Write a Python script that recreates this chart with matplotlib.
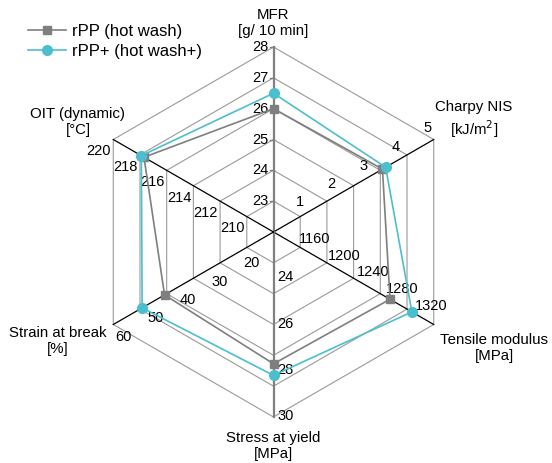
import numpy as np
import matplotlib
matplotlib.use("Agg")
import matplotlib.pyplot as plt
from matplotlib.lines import Line2D

plt.rcParams['font.family'] = ['Liberation Sans', 'DejaVu Sans']

# axes, clockwise from the top
axis_names = ['MFR\n[g/ 10 min]', 'Charpy NIS\n[kJ/m$^2$]', 'Tensile modulus\n[MPa]',
              'Stress at yield\n[MPa]', 'Strain at break\n[%]', 'OIT (dynamic)\n[°C]']
axis_min = [22, 0, 1100, 22, 10, 208]
axis_max = [28, 5, 1320, 30, 60, 220]
axis_ticks = [
    [23, 24, 25, 26, 27, 28],
    [1, 2, 3, 4, 5],
    [1160, 1200, 1240, 1280, 1320],
    [24, 26, 28, 30],
    [20, 30, 40, 50, 60],
    [210, 212, 214, 216, 218, 220],
]

series_names = ['rPP (hot wash)', 'rPP+ (hot wash+)']
rpp = [26.0, 3.4, 1260, 27.7, 44, 217.7]
rpp_plus = [26.5, 3.5, 1290, 28.2, 51, 217.9]

angles = np.deg2rad([90, 30, -30, -90, 210, 150])
n_rings = 6

W, H = 552, 463
R = 185.0          # radius in pixels
cx, cy = 273.5, 232.0

fig = plt.figure(figsize=(W / 100, H / 100), dpi=100)
ax = fig.add_axes([0, 0, 1, 1])
ax.set_xlim(-cx / R, (W - cx) / R)
ax.set_ylim(-(H - cy) / R, cy / R)
ax.axis('off')


def to_xy(i, v):
    r = (v - axis_min[i]) / (axis_max[i] - axis_min[i])
    return r * np.cos(angles[i]), r * np.sin(angles[i])


def px(dx, dy):
    # pixel offset -> data offset (y down in pixels)
    return dx / R, -dy / R


# hexagon rings
for k in range(1, n_rings + 1):
    r = k / n_rings
    xs = list(r * np.cos(angles)) + [r * np.cos(angles[0])]
    ys = list(r * np.sin(angles)) + [r * np.sin(angles[0])]
    ax.plot(xs, ys, color='#9a9a9a', lw=0.8, zorder=1)

# spokes
for i, a in enumerate(angles):
    if i in (0, 3):
        ax.plot([0, np.cos(a)], [0, np.sin(a)], color='#808080', lw=1.6, zorder=2)
    else:
        ax.plot([0, np.cos(a)], [0, np.sin(a)], color='black', lw=0.9, zorder=2)

# little ticks on MFR axis
for t in axis_ticks[0]:
    x, y = to_xy(0, t)
    ax.plot([x - 4 / R, x], [y, y], color='#808080', lw=1.0, zorder=2)

# tick labels
fs_tick = 10.5
for i in range(6):
    for t in axis_ticks[i]:
        x, y = to_xy(i, t)
        if i == 0:
            ax.text(x - 5 / R, y, str(t), ha='right', va='center', fontsize=fs_tick)
        elif i == 1:
            ox, oy = px(-6, -11)
            ax.text(x + ox, y + oy, str(t), ha='center', va='center', fontsize=fs_tick)
        elif i == 2:
            ox, oy = px(-2.5, -18.5)
            ax.text(x + ox, y + oy, str(t), ha='center', va='center', fontsize=fs_tick)
        elif i == 3:
            ox, oy = px(3.5, -1)
            ax.text(x + ox, y + oy, str(t), ha='left', va='center', fontsize=fs_tick)
        elif i == 4:
            ox, oy = px(10, 12.5)
            ax.text(x + ox, y + oy, str(t), ha='center', va='center', fontsize=fs_tick)
        else:
            ox, oy = px(-14.3, 11.8)
            ax.text(x + ox, y + oy, str(t), ha='center', va='center', fontsize=fs_tick)

# axis titles (pixel positions of their centres)
title_pos = [(273, 23), (474, 120), (494, 348), (273, 446), (58, 341), (78, 122)]
for name, (tx, ty) in zip(axis_names, title_pos):
    ax.text((tx - cx) / R, (cy - ty) / R, name, ha='center', va='center',
            fontsize=10.8, linespacing=1.25)

# series
def draw(vals, color, marker, ms, label, z):
    pts = [to_xy(i, v) for i, v in enumerate(vals)]
    xs = [p[0] for p in pts] + [pts[0][0]]
    ys = [p[1] for p in pts] + [pts[0][1]]
    ax.plot(xs, ys, color=color, lw=1.2, zorder=z)
    ax.plot(xs[:-1], ys[:-1], ls='none', marker=marker, ms=ms, color=color,
            mec=color, zorder=z + 0.5)
    return Line2D([], [], color=color, lw=1.2, marker=marker, ms=ms, label=label)


h1 = draw(rpp, '#7f7f7f', 's', 5.2, series_names[0], 4)
h2 = draw(rpp_plus, '#4bbfce', 'o', 7.0, series_names[1], 5)

ax.legend(handles=[h1, h2], loc='upper left', bbox_to_anchor=(28 / W, 1 - 24 / H),
          frameon=False, fontsize=12, handlelength=2.3, handletextpad=0.35,
          labelspacing=0.3, borderpad=0, borderaxespad=0)

fig.savefig('out.png', dpi=100)
